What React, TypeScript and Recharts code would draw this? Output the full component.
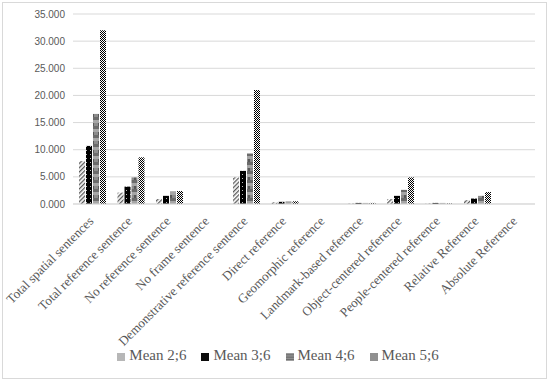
import { BarChart, Bar, XAxis, YAxis, CartesianGrid, Legend } from "recharts";

const categories = [
  "Total spatial sentences",
  "Total reference sentence",
  "No reference sentence",
  "No frame sentence",
  "Demonstrative reference sentence",
  "Direct reference",
  "Geomorphic reference",
  "Landmark-based reference",
  "Object-centered reference",
  "People-centered reference",
  "Relative Reference",
  "Absolute Reference",
];

const mean26 = [7.9, 2.1, 0.9, 0, 4.9, 0.3, 0, 0.1, 0.9, 0.1, 0.7, 0];
const mean36 = [10.7, 3.2, 1.5, 0, 6.1, 0.4, 0, 0.2, 1.5, 0.2, 1.0, 0];
const mean46 = [16.6, 4.9, 2.3, 0, 9.3, 0.5, 0, 0.2, 2.6, 0.2, 1.5, 0];
const mean56 = [32.0, 8.6, 2.4, 0, 21.0, 0.5, 0, 0.2, 4.9, 0.1, 2.2, 0];

const yTicks = [0, 5, 10, 15, 20, 25, 30, 35];

const data = categories.map((name, i) => ({
  name,
  m26: mean26[i],
  m36: mean36[i],
  m46: mean46[i],
  m56: mean56[i],
}));

const fmt = (v: number) => v.toFixed(3);

function CategoryTick(props: any) {
  const { x, y, payload } = props;
  return (
    <g transform={`translate(${x + 2},${y + 10})`}>
      <text
        transform="rotate(-45)"
        textAnchor="end"
        fontFamily="'Liberation Serif', serif"
        fontSize={13}
        fill="#595959"
      >
        {payload.value}
      </text>
    </g>
  );
}

export default function App() {
  return (
    <div style={{ position: "fixed", left: 0, top: 0, width: 550, height: 381, background: "#fff" }}>
      <div
        style={{
          position: "absolute",
          left: 2,
          top: 2,
          width: 545,
          height: 377,
          border: "1px solid #d9d9d9",
          boxSizing: "border-box",
          pointerEvents: "none",
        }}
      />
      <BarChart
        width={550}
        height={381}
        data={data}
        margin={{ top: 14, right: 15, left: 0, bottom: 17 }}
        barSize={6}
        barGap={1}
      >
        <defs>
          <pattern id="p26" width="3" height="3" patternUnits="userSpaceOnUse" patternTransform="rotate(45)">
            <rect width="3" height="3" fill="#fff" />
            <rect width="1.3" height="3" fill="#595959" />
          </pattern>
          <pattern id="p36" width="4" height="4" patternUnits="userSpaceOnUse">
            <rect width="4" height="4" fill="#000" />
            <rect x="2" y="2" width="1" height="1" fill="#bfbfbf" />
          </pattern>
          <pattern id="p46" width="6" height="9" patternUnits="userSpaceOnUse">
            <rect width="6" height="9" fill="#8c8c8c" />
            <rect y="0" width="6" height="3" fill="#6b6b6b" />
            <rect y="3" width="6" height="3" fill="#a6a6a6" />
            <rect x="2" y="6" width="2" height="3" fill="#595959" />
          </pattern>
          <pattern id="p56" width="2" height="2" patternUnits="userSpaceOnUse">
            <rect width="2" height="2" fill="#fff" />
            <rect width="1" height="1" fill="#000" />
            <rect x="1" y="1" width="1" height="1" fill="#000" />
          </pattern>
        </defs>
        <CartesianGrid vertical={false} stroke="#d9d9d9" />
        <XAxis
          dataKey="name"
          interval={0}
          axisLine={{ stroke: "#d9d9d9" }}
          tickLine={false}
          height={143}
          tick={<CategoryTick />}
        />
        <YAxis
          width={73}
          domain={[0, 35]}
          ticks={yTicks}
          tickFormatter={fmt}
          axisLine={false}
          tickLine={false}
          tick={{ fill: "#595959", fontSize: 10, fontFamily: "'Liberation Sans', sans-serif" }}
        />
        <Legend
          verticalAlign="bottom"
          iconType="square"
          iconSize={8}
          wrapperStyle={{ fontFamily: "'Liberation Serif', serif", fontSize: 15, color: "#595959", paddingLeft: 18 }}
          formatter={(v: string) => <span style={{ color: "#595959", marginRight: 5 }}>{v}</span>}
        />
        <Bar dataKey="m26" name="Mean 2;6" fill="url(#p26)" isAnimationActive={false} />
        <Bar dataKey="m36" name="Mean 3;6" fill="url(#p36)" isAnimationActive={false} />
        <Bar dataKey="m46" name="Mean 4;6" fill="url(#p46)" isAnimationActive={false} />
        <Bar dataKey="m56" name="Mean 5;6" fill="url(#p56)" isAnimationActive={false} />
      </BarChart>
    </div>
  );
}
